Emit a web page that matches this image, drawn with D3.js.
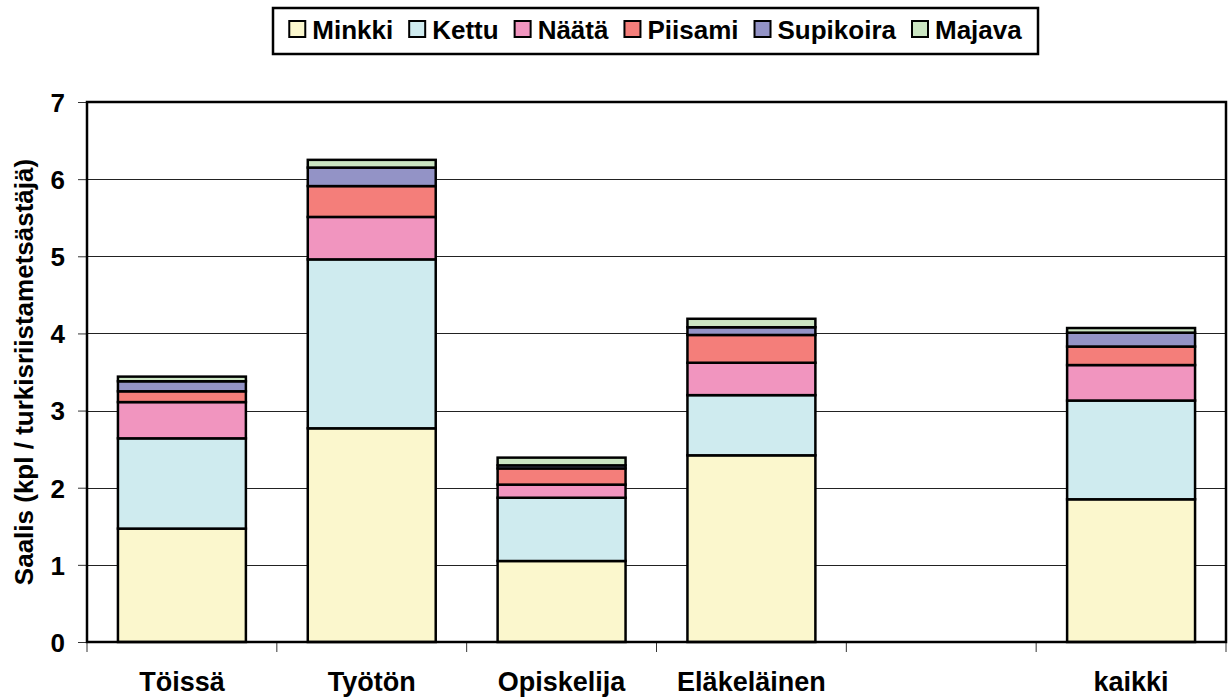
<!DOCTYPE html>
<html>
<head>
<meta charset="utf-8">
<script src="https://cdn.jsdelivr.net/npm/d3@7"></script>
<style>
  body { margin: 0; background: #fff; }
  text { font-family: "Liberation Sans", Arial, sans-serif; font-weight: bold; fill: #000; }
</style>
</head>
<body>
<div id="chart"></div>
<script>
// luokat ja sarjat (kpl / turkisriistametsästäjä)
var categories = ["Töissä", "Työtön", "Opiskelija", "Eläkeläinen", "", "kaikki"];
var seriesNames = ["Minkki", "Kettu", "Näätä", "Piisami", "Supikoira", "Majava"];
var minkki    = [1.47, 2.77, 1.05, 2.42, 0, 1.85];
var kettu     = [1.17, 2.19, 0.82, 0.78, 0, 1.28];
var naata     = [0.47, 0.55, 0.17, 0.42, 0, 0.46];
var piisami   = [0.14, 0.40, 0.21, 0.36, 0, 0.24];
var supikoira = [0.13, 0.24, 0.04, 0.10, 0, 0.18];
var majava    = [0.06, 0.10, 0.10, 0.11, 0, 0.06];
var yTicks = [0, 1, 2, 3, 4, 5, 6, 7];
var colors = ["#FBF7CD", "#CFEBEF", "#F195BF", "#F47E7A", "#9393C6", "#CBE5C2"];

var WIDTH = 1229, HEIGHT = 697;
var margin = { left: 87, right: 3, top: 102, bottom: 55 };

var svg = d3.select("#chart").append("svg")
    .attr("width", WIDTH)
    .attr("height", HEIGHT);

// taulukko d3.stackia varten
var allSeries = [minkki, kettu, naata, piisami, supikoira, majava];
var rows = categories.map(function (c, i) {
    var r = { cat: c };
    seriesNames.forEach(function (s, j) { r[s] = allSeries[j][i]; });
    return r;
});
var stacked = d3.stack().keys(seriesNames)(rows);

var x = d3.scaleBand()
    .domain(categories)
    .range([margin.left, WIDTH - margin.right])
    .paddingInner(0.326)
    .paddingOuter(0.163);

var y = d3.scaleLinear()
    .domain([0, 7])
    .range([HEIGHT - margin.bottom, margin.top]);

var x0 = margin.left, x1 = WIDTH - margin.right;
var y0 = y(0), y7 = y(7);

// vaakaviivat
svg.append("g")
    .selectAll("line")
    .data(yTicks.slice(1, -1))
    .enter().append("line")
    .attr("x1", x0).attr("x2", x1)
    .attr("y1", function (d) { return Math.round(y(d)) + 0.5; })
    .attr("y2", function (d) { return Math.round(y(d)) + 0.5; })
    .attr("stroke", "#222")
    .attr("stroke-width", 1);

// y-akseli
var yAxis = svg.append("g")
    .attr("transform", "translate(" + x0 + ",0)")
    .call(d3.axisLeft(y).tickValues(yTicks).tickSize(9).tickPadding(13).tickFormat(d3.format("d")));
yAxis.select(".domain").remove();
yAxis.selectAll(".tick line").attr("stroke", "#333");
yAxis.selectAll(".tick text")
    .style("font-size", "26px")
    .attr("dy", "0.36em");

// x-akselin jakoviivat luokkien välissä
var step = x.step();
var boundaries = d3.range(categories.length + 1).map(function (i) { return x0 + i * step; });
svg.append("g")
    .selectAll("line")
    .data(boundaries)
    .enter().append("line")
    .attr("x1", function (d) { return d; })
    .attr("x2", function (d) { return d; })
    .attr("y1", y0).attr("y2", y0 + 10)
    .attr("stroke", "#333")
    .attr("stroke-width", 1);

// pinotut pylväät
svg.append("g")
    .selectAll("g")
    .data(stacked)
    .enter().append("g")
    .attr("fill", function (d, i) { return colors[i]; })
    .selectAll("rect")
    .data(function (d) { return d.filter(function (p) { return p[1] - p[0] > 0; }); })
    .enter().append("rect")
    .attr("x", function (d) { return x(d.data.cat); })
    .attr("width", x.bandwidth())
    .attr("y", function (d) { return y(d[1]); })
    .attr("height", function (d) { return y(d[0]) - y(d[1]); })
    .attr("stroke", "#000")
    .attr("stroke-width", 2.5);

// kuvaajan kehys
svg.append("rect")
    .attr("x", x0).attr("y", y7)
    .attr("width", x1 - x0).attr("height", y0 - y7)
    .attr("fill", "none")
    .attr("stroke", "#000")
    .attr("stroke-width", 2.5);

// luokkien nimet
svg.append("g")
    .selectAll("text")
    .data(categories)
    .enter().append("text")
    .attr("x", function (d) { return x(d) + x.bandwidth() / 2; })
    .attr("y", 691)
    .attr("text-anchor", "middle")
    .style("font-size", "27px")
    .text(function (d) { return d; });

// y-akselin otsikko
svg.append("text")
    .attr("transform", "translate(33," + ((y0 + y7) / 2) + ")rotate(-90)")
    .attr("text-anchor", "middle")
    .style("font-size", "26px")
    .text("Saalis (kpl / turkisriistametsästäjä)");

// selite
var legend = svg.append("g");
var legendBox = legend.append("rect")
    .attr("fill", "#fff")
    .attr("stroke", "#000")
    .attr("stroke-width", 2.5);
var items = legend.selectAll("g")
    .data(seriesNames)
    .enter().append("g");
items.append("rect")
    .attr("width", 16).attr("height", 16)
    .attr("y", 21)
    .attr("fill", function (d, i) { return colors[i]; })
    .attr("stroke", "#000")
    .attr("stroke-width", 2);
items.append("text")
    .attr("x", 23)
    .attr("y", 38.5)
    .style("font-size", "26px")
    .text(function (d) { return d; });

var cursor = 0;
items.each(function () {
    var g = d3.select(this);
    g.attr("transform", "translate(" + cursor + ",0)");
    cursor += 23 + g.select("text").node().getComputedTextLength() + 16;
});
cursor -= 16;
var boxL = 273, boxR = 1038;
var offset = boxL + (boxR - boxL - cursor) / 2;
items.each(function () {
    var g = d3.select(this);
    var t = g.attr("transform").match(/translate\(([-\d.]+)/)[1];
    g.attr("transform", "translate(" + (offset + (+t)) + ",0)");
});
legendBox.attr("x", boxL).attr("y", 8).attr("width", boxR - boxL).attr("height", 46);
</script>
</body>
</html>
